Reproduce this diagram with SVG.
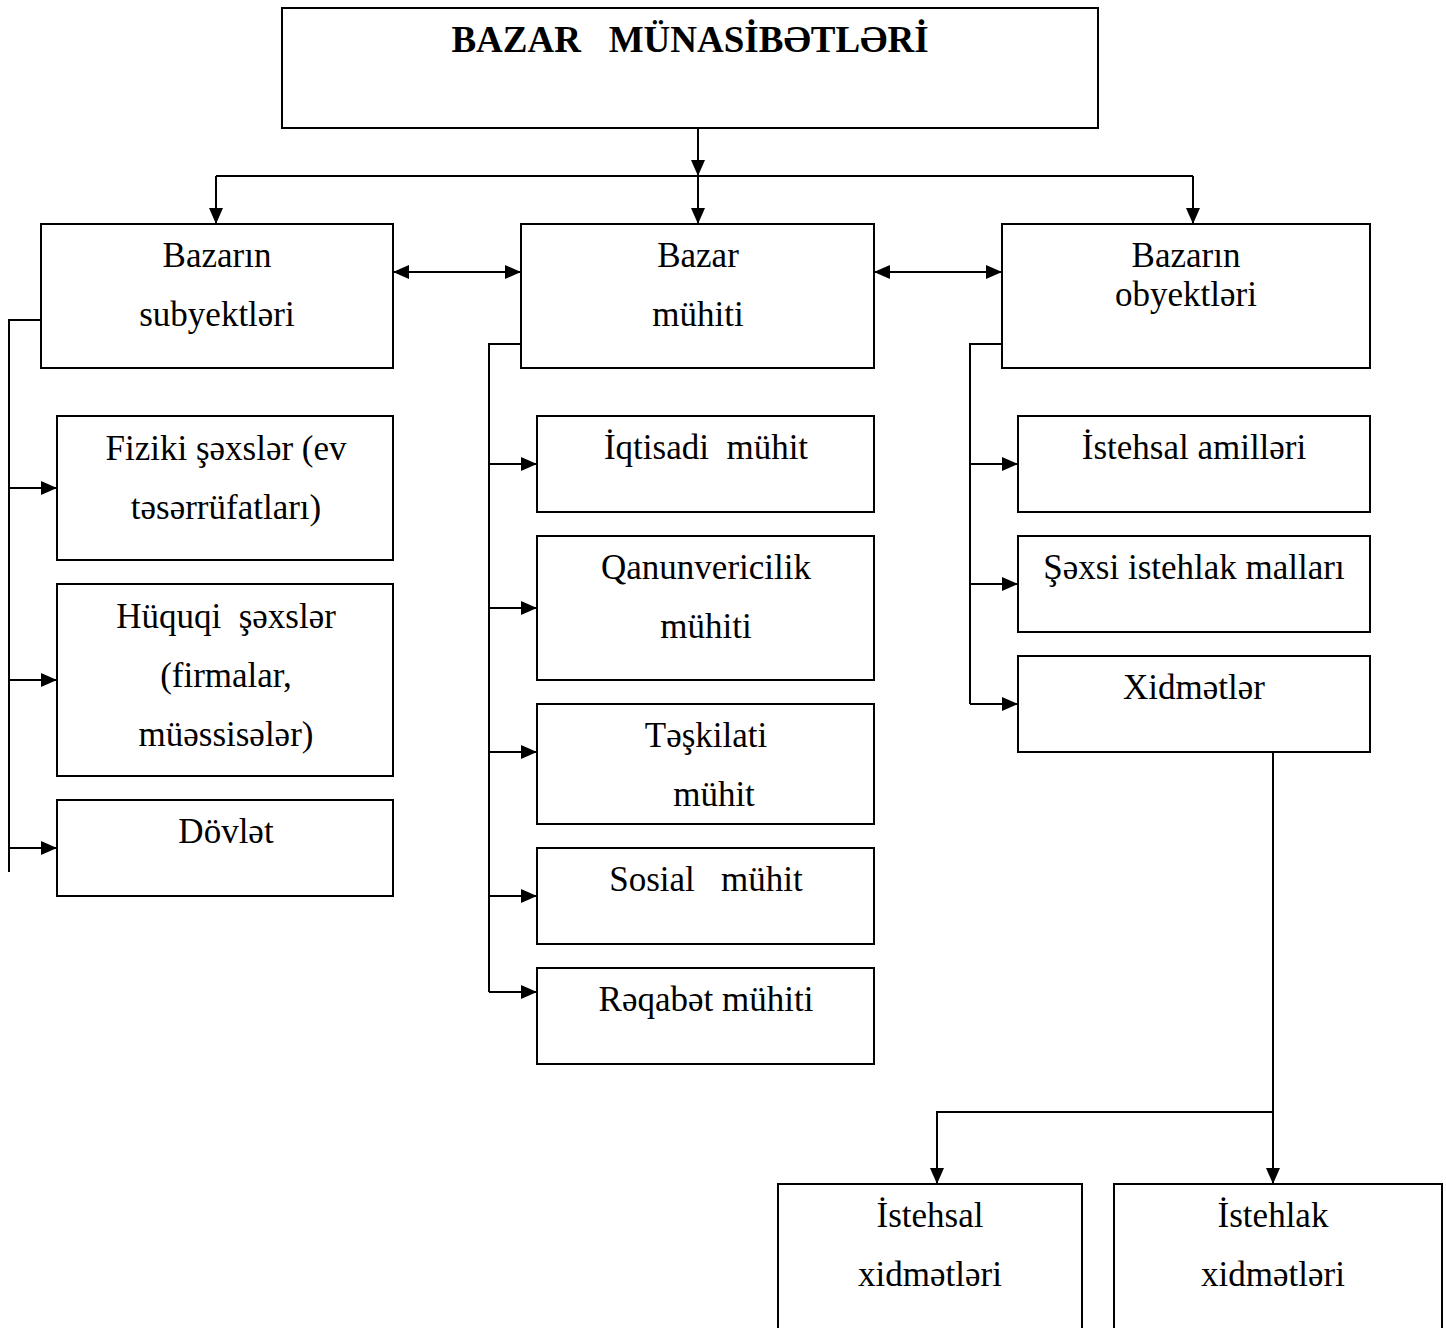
<svg xmlns="http://www.w3.org/2000/svg" width="1446" height="1328" viewBox="0 0 1446 1328">
<style>
.box{fill:#fff;stroke:#000;stroke-width:2}
.t{font-family:"Liberation Serif","Times New Roman",serif;font-size:35px;fill:#000;text-anchor:middle}
.tt{font-family:"Liberation Serif","Times New Roman",serif;font-size:37px;font-weight:bold;fill:#000;text-anchor:middle}
.c{fill:none;stroke:#000;stroke-width:2}
</style>
<defs>
<marker id="ah" markerUnits="userSpaceOnUse" markerWidth="16" markerHeight="14" refX="16" refY="7" orient="auto-start-reverse">
<path d="M0,0 L16,7 L0,14 Z" fill="#000"/>
</marker>
</defs>
<rect width="1446" height="1328" fill="#fff"/>
<g id="connectors">
<path class="c" d="M698,128 V176" marker-end="url(#ah)"/>
<path class="c" d="M216,176 H1193"/>
<path class="c" d="M216,176 V224" marker-end="url(#ah)"/>
<path class="c" d="M698,176 V224" marker-end="url(#ah)"/>
<path class="c" d="M1193,176 V224" marker-end="url(#ah)"/>
<path class="c" d="M393,272 H521" marker-start="url(#ah)" marker-end="url(#ah)"/>
<path class="c" d="M874,272 H1002" marker-start="url(#ah)" marker-end="url(#ah)"/>
<path class="c" d="M41,320 H9 V872"/>
<path class="c" d="M9,488 H57" marker-end="url(#ah)"/>
<path class="c" d="M9,680 H57" marker-end="url(#ah)"/>
<path class="c" d="M9,848 H57" marker-end="url(#ah)"/>
<path class="c" d="M521,344 H489 V992"/>
<path class="c" d="M489,464 H537" marker-end="url(#ah)"/>
<path class="c" d="M489,608 H537" marker-end="url(#ah)"/>
<path class="c" d="M489,752 H537" marker-end="url(#ah)"/>
<path class="c" d="M489,896 H537" marker-end="url(#ah)"/>
<path class="c" d="M489,992 H537" marker-end="url(#ah)"/>
<path class="c" d="M1002,344 H970 V704"/>
<path class="c" d="M970,464 H1018" marker-end="url(#ah)"/>
<path class="c" d="M970,584 H1018" marker-end="url(#ah)"/>
<path class="c" d="M970,704 H1018" marker-end="url(#ah)"/>
<path class="c" d="M1273,752 V1184" marker-end="url(#ah)"/>
<path class="c" d="M1273,1112 H937 V1184" marker-end="url(#ah)"/>
</g>
<g id="root"><rect class="box" x="282" y="8" width="816" height="120"/><text class="tt" x="690" y="52" xml:space="preserve">BAZAR   MÜNASİBƏTLƏRİ</text></g>
<g id="subyektler"><rect class="box" x="41" y="224" width="352" height="144"/><text class="t" x="217" y="267">Bazarın</text><text class="t" x="217" y="326">subyektləri</text></g>
<g id="muhit"><rect class="box" x="521" y="224" width="353" height="144"/><text class="t" x="698" y="267">Bazar</text><text class="t" x="698" y="326">mühiti</text></g>
<g id="obyektler"><rect class="box" x="1002" y="224" width="368" height="144"/><text class="t" x="1186" y="267">Bazarın</text><text class="t" x="1186" y="306">obyektləri</text></g>
<g id="fiziki"><rect class="box" x="57" y="416" width="336" height="144"/><text class="t" x="226" y="460">Fiziki şəxslər (ev</text><text class="t" x="226" y="519">təsərrüfatları)</text></g>
<g id="huquqi"><rect class="box" x="57" y="584" width="336" height="192"/><text class="t" x="226" y="628" xml:space="preserve">Hüquqi  şəxslər</text><text class="t" x="226" y="687">(firmalar,</text><text class="t" x="226" y="746">müəssisələr)</text></g>
<g id="dovlet"><rect class="box" x="57" y="800" width="336" height="96"/><text class="t" x="226" y="843">Dövlət</text></g>
<g id="iqtisadi"><rect class="box" x="537" y="416" width="337" height="96"/><text class="t" x="706" y="459" xml:space="preserve">İqtisadi  mühit</text></g>
<g id="qanun"><rect class="box" x="537" y="536" width="337" height="144"/><text class="t" x="706" y="579">Qanunvericilik</text><text class="t" x="706" y="638">mühiti</text></g>
<g id="teskilati"><rect class="box" x="537" y="704" width="337" height="120"/><text class="t" x="706" y="747">Təşkilati</text><text class="t" x="714" y="806">mühit</text></g>
<g id="sosial"><rect class="box" x="537" y="848" width="337" height="96"/><text class="t" x="706" y="891" xml:space="preserve">Sosial   mühit</text></g>
<g id="reqabet"><rect class="box" x="537" y="968" width="337" height="96"/><text class="t" x="706" y="1011">Rəqabət mühiti</text></g>
<g id="amiller"><rect class="box" x="1018" y="416" width="352" height="96"/><text class="t" x="1194" y="459">İstehsal amilləri</text></g>
<g id="sexsi"><rect class="box" x="1018" y="536" width="352" height="96"/><text class="t" x="1194" y="579">Şəxsi istehlak malları</text></g>
<g id="xidmetler"><rect class="box" x="1018" y="656" width="352" height="96"/><text class="t" x="1194" y="699">Xidmətlər</text></g>
<g id="istehsal-xid"><rect class="box" x="778" y="1184" width="304" height="150"/><text class="t" x="930" y="1227">İstehsal</text><text class="t" x="930" y="1286">xidmətləri</text></g>
<g id="istehlak-xid"><rect class="box" x="1114" y="1184" width="328" height="150"/><text class="t" x="1273" y="1227">İstehlak</text><text class="t" x="1273" y="1286">xidmətləri</text></g>
</svg>
